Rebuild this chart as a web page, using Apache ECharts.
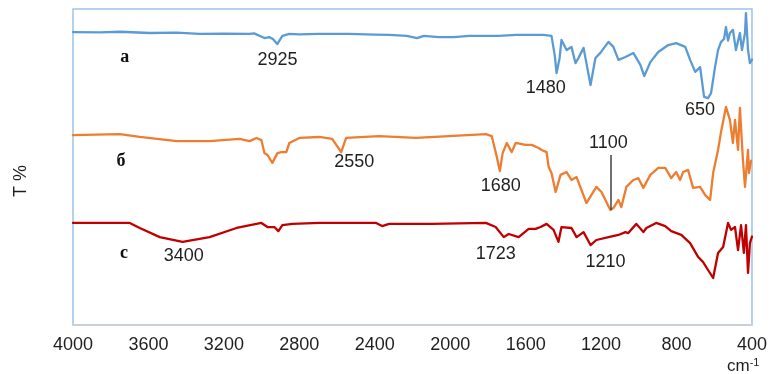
<!DOCTYPE html>
<html>
<head>
<meta charset="utf-8">
<script src="https://cdn.jsdelivr.net/npm/echarts@6/dist/echarts.min.js"></script>
<style>
  html, body { margin: 0; padding: 0; background: #fff; }
  #chart { width: 770px; height: 374px; }
</style>
</head>
<body>
<div id="chart"></div>
<script>
// IR transmittance spectra (wavenumber cm-1, T in arbitrary %)
const xTicks = [4000, 3600, 3200, 2800, 2400, 2000, 1600, 1200, 800, 400];

const spectrumA = [
  [4000,92.7],[3857,92.6],[3750,92.8],[3593,92.4],[3450,92.5],[3329,92.1],[3200,92.2],
  [3064,92.1],[3040,92.3],[2985,90.8],[2960,91.1],[2940,90.5],[2917,88.9],[2890,91.5],
  [2853,92.1],[2800,92.0],[2700,92.1],[2536,92.1],[2400,91.9],[2324,91.8],[2230,91.5],
  [2176,90.8],[2140,91.5],[2060,91.1],[1981,91.1],[1900,91.5],[1743,91.5],[1650,91.8],
  [1505,91.8],[1463,91.5],[1445,85.0],[1436,79.7],[1420,84.5],[1410,90.2],[1383,87.0],
  [1357,88.0],[1336,82.9],[1320,84.5],[1293,87.7],[1256,75.9],[1230,84.5],[1204,86.1],
  [1161,89.6],[1135,88.0],[1108,83.9],[1071,84.8],[1029,86.1],[992,82.3],[971,78.8],
  [939,83.2],[897,86.4],[844,88.6],[802,89.2],[754,88.0],[728,83.9],[701,80.1],[675,81.6],
  [654,72.2],[633,71.8],[617,73.4],[596,81.6],[580,87.0],[564,89.6],[548,90.5],[538,94.3],
  [527,90.0],[517,92.4],[501,93.4],[485,87.0],[464,92.4],[453,87.0],[437,92.4],[432,98.7],
  [421,87.0],[411,82.9],[400,84.0]
];

const spectrumB = [
  [4000,60.1],[3752,60.4],[3646,59.5],[3450,58.2],[3276,58.2],[3117,58.9],[3064,58.2],
  [3027,59.2],[3001,58.5],[2985,54.4],[2969,53.8],[2943,51.3],[2916,54.4],[2895,54.7],
  [2869,54.7],[2853,57.6],[2800,59.2],[2694,59.5],[2626,58.9],[2578,54.7],[2552,59.2],
  [2377,59.8],[2182,59.2],[2007,59.8],[1811,60.4],[1780,59.8],[1753,53.2],[1737,48.7],
  [1722,54.4],[1700,57.6],[1674,54.7],[1653,57.6],[1600,57.0],[1568,57.0],[1531,56.0],
  [1515,55.4],[1489,54.7],[1478,50.0],[1463,48.1],[1441,42.1],[1415,47.5],[1383,48.4],
  [1357,45.9],[1330,46.8],[1278,38.6],[1225,43.7],[1198,42.1],[1151,36.4],[1135,37.0],
  [1108,39.6],[1093,37.3],[1066,43.7],[1029,45.9],[1003,46.5],[976,43.4],[939,47.5],
  [897,49.7],[860,49.7],[828,46.5],[802,48.4],[781,45.9],[765,48.4],[739,49.1],[712,43.4],
  [675,43.7],[648,41.1],[622,39.6],[606,48.1],[580,55.4],[564,61.1],[538,69.0],[517,64.9],
  [501,57.6],[490,64.9],[474,55.4],[464,68.7],[448,52.2],[437,43.7],[421,55.4],[416,48.1],
  [405,52.0]
];

const spectrumC = [
  [4000,32.3],[3699,32.3],[3646,30.7],[3540,27.8],[3419,26.3],[3276,27.8],[3133,30.7],
  [3001,32.3],[2969,31.0],[2932,31.0],[2911,29.7],[2890,31.6],[2837,32.0],[2694,32.3],
  [2393,32.3],[2361,31.3],[2324,32.0],[2097,32.0],[1811,32.3],[1759,31.0],[1716,27.8],
  [1690,28.8],[1637,27.8],[1584,30.4],[1547,30.4],[1521,31.0],[1489,32.0],[1452,30.1],
  [1426,26.3],[1410,31.0],[1357,30.7],[1330,27.8],[1293,29.4],[1256,25.3],[1225,26.9],
  [1161,27.8],[1108,28.5],[1071,29.4],[1056,29.1],[1013,32.0],[976,29.4],[960,30.7],
  [908,32.3],[860,31.3],[828,29.7],[775,28.5],[728,25.9],[685,21.5],[659,19.9],[633,17.4],
  [606,14.9],[580,22.8],[553,24.7],[527,32.3],[511,30.1],[490,31.0],[474,23.7],[458,31.6],
  [443,22.8],[432,31.6],[421,16.5],[411,25.9],[400,28.0]
];

// band annotations: [wavenumber, T, text]
const bandLabels = [
  [2916, 83.9, '2925'], [1494, 75.0, '1480'], [675, 68.0, '650'],
  [2509, 51.6, '2550'], [1732, 44.0, '1680'], [1161, 57.6, '1100'],
  [3413, 21.8, '3400'], [1759, 22.5, '1723'], [1177, 19.9, '1210']
];
// sample letters: [wavenumber, T, text]
const sampleLabels = [
  [3725, 84.8, 'a'], [3746, 51.9, 'б'], [3730, 22.8, 'c']
];
// pointer line for the 1100 band
const pointer1100 = [[1151, 53.8], [1151, 36.4]];

const chart = echarts.init(document.getElementById('chart'));
const lineStyleFor = c => ({ color: c, width: 2.3, join: 'round', cap: 'round' });
const TEXT = '#1f1f1f';

chart.setOption({
  animation: false,
  grid: {
    left: 73, right: 16, top: 9, bottom: 49,
    show: true, borderColor: '#9dc3e6', borderWidth: 1.5, backgroundColor: '#fff'
  },
  xAxis: {
    type: 'value', inverse: true, min: 400, max: 4000, interval: 400,
    axisLine: { show: true, lineStyle: { color: '#d0d0d0', width: 1.5 } },
    axisTick: { show: false },
    splitLine: { show: false },
    axisLabel: {
      margin: 11, color: TEXT, fontSize: 18, fontFamily: 'Liberation Sans, Arial',
      customValues: xTicks, formatter: v => String(v)
    }
  },
  yAxis: {
    type: 'value', min: 0, max: 100, show: false
  },
  graphic: [
    {
      type: 'text', left: 12, top: 165, rotation: Math.PI / 2,
      style: { text: 'T %', fontSize: 18, fontFamily: 'Liberation Sans, Arial', fill: TEXT }
    },
    {
      type: 'text', left: 727, top: 357,
      style: {
        text: '{a|cm}{b|-1}',
        rich: {
          a: { fontSize: 17, fontFamily: 'Liberation Sans, Arial', fill: TEXT },
          b: { fontSize: 11, fontFamily: 'Liberation Sans, Arial', fill: TEXT, verticalAlign: 'top', padding: [0, 0, 8, 0] }
        }
      }
    }
  ],
  series: [
    {
      name: 'a', type: 'line', data: spectrumA, showSymbol: false,
      lineStyle: lineStyleFor('#5b9bd5'), itemStyle: { color: '#5b9bd5' }
    },
    {
      name: 'б', type: 'line', data: spectrumB, showSymbol: false,
      lineStyle: lineStyleFor('#ed7d31'), itemStyle: { color: '#ed7d31' },
      markLine: {
        silent: true, symbol: 'none', label: { show: false },
        lineStyle: { color: '#404040', width: 1.5, type: 'solid' },
        data: [[{ coord: pointer1100[0] }, { coord: pointer1100[1] }]]
      }
    },
    {
      name: 'c', type: 'line', data: spectrumC, showSymbol: false,
      lineStyle: lineStyleFor('#c00000'), itemStyle: { color: '#c00000' }
    },
    {
      type: 'scatter', data: bandLabels, symbolSize: 0, silent: true,
      itemStyle: { opacity: 1 },
      label: {
        show: true, position: 'inside', formatter: p => p.value[2],
        color: TEXT, fontSize: 18, fontFamily: 'Liberation Sans, Arial'
      }
    },
    {
      type: 'scatter', data: sampleLabels, symbolSize: 0, silent: true,
      itemStyle: { opacity: 1 },
      label: {
        show: true, position: 'inside', formatter: p => p.value[2],
        color: '#111', fontSize: 18, fontWeight: 'bold', fontFamily: 'Liberation Serif, Times New Roman'
      }
    }
  ]
});
</script>
</body>
</html>
